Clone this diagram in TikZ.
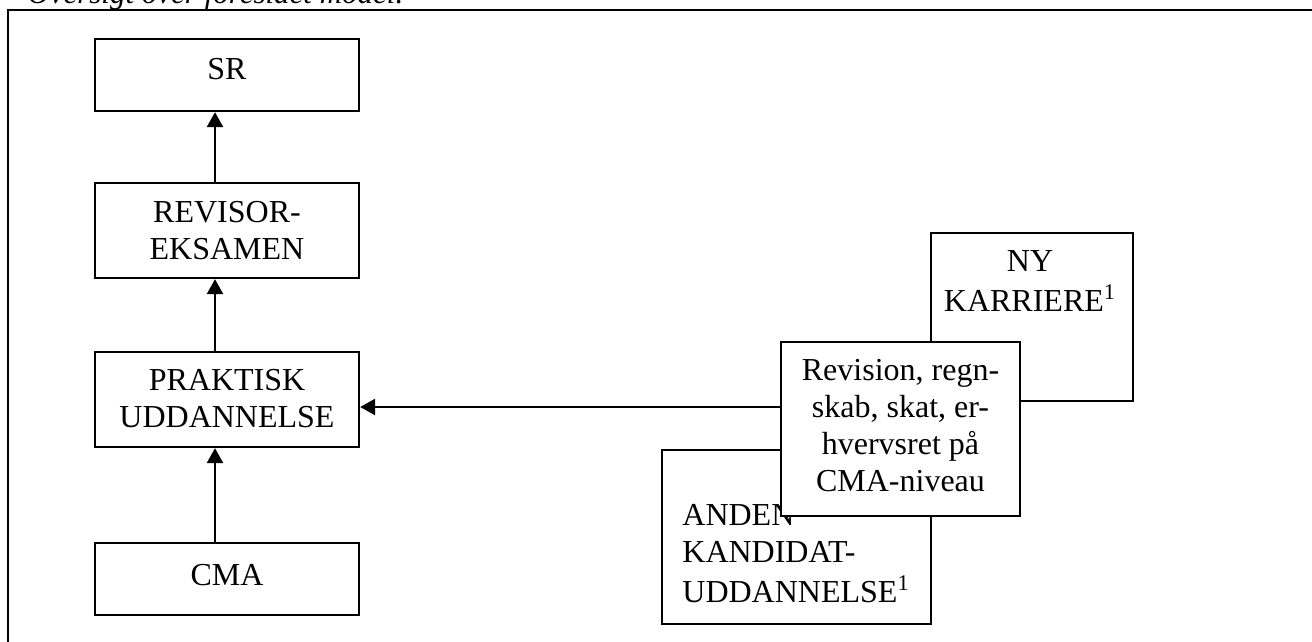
\documentclass[tikz,border=0pt]{standalone}
\usepackage{fontspec}
\setmainfont{Liberation Serif}
\usetikzlibrary{arrows.meta}
\begin{document}
\begin{tikzpicture}[x=0.5pt,y=-0.5pt,
  box/.style={draw=black,line width=1.15pt,fill=white,rectangle,inner sep=0pt},
  txt/.style={inner sep=0pt,align=center,font=\fontsize{16}{18.5}\selectfont},
  arr/.style={line width=1.25pt,-{Triangle[length=7.5pt,width=8pt]}}]
\useasboundingbox (0,0) rectangle (1312,642);
\clip (0,0) rectangle (1312,642);
% title (cut off at top)
\node[inner sep=0pt,anchor=base west,font=\fontsize{15.5}{18}\selectfont\itshape] (title) at (27,3.5) {Oversigt over foreslået model.};
% outer frame
\coordinate (fbl) at (8,700);
\coordinate (ftl) at (8,10);
\coordinate (ftr) at (1400,10);
\draw[line width=1.25pt] (fbl) -- (ftl) -- (ftr);
% left column
\node[box,minimum width=132pt,minimum height=36pt] (sr) at (227,75) {};
\node[box,minimum width=132pt,minimum height=47.5pt] (rev) at (227,230.5) {};
\node[box,minimum width=132pt,minimum height=47.5pt] (prak) at (227,399.5) {};
\node[box,minimum width=132pt,minimum height=36pt] (cma) at (227,579) {};
\node[txt] (srt) at (227,72.6) {\strut SR};
\node[txt] (revt) at (227,234) {\strut REVISOR-\\\strut EKSAMEN};
\node[txt] (prakt) at (227,402) {\strut PRAKTISK\\\strut UDDANNELSE};
\node[txt] (cmat) at (227,577.6) {\strut CMA};
% right group
\node[box,minimum width=134.5pt,minimum height=87pt] (anden) at (796.5,537) {};
\node[txt,anchor=west,align=left] (andent) at (682,556.6) {\strut ANDEN\\\strut KANDIDAT-\\\strut UDDANNELSE\textsuperscript{1}};
\node[box,minimum width=101pt,minimum height=84pt] (ny) at (1032,317) {};
\node[txt] (nyt) at (1030,284) {\strut NY\\\strut KARRIERE\textsuperscript{1}};
\node[box,minimum width=119.5pt,minimum height=87pt] (cmab) at (900.5,429) {};
\node[txt] (cmabt) at (900.5,428.6) {\strut Revision, regn-\\\strut skab, skat, er-\\\strut hvervsret på\\\strut CMA-niveau};
% arrows
\draw[arr] ([xshift=-6pt]cma.north) -- ([xshift=-6pt]prak.south);
\draw[arr] ([xshift=-6pt]prak.north) -- ([xshift=-6pt]rev.south);
\draw[arr] ([xshift=-6pt]rev.north) -- ([xshift=-6pt]sr.south);
\draw[arr] ([yshift=11pt]cmab.west) -- ([yshift=11pt]cmab.west -| prak.east);
\end{tikzpicture}
\end{document}
